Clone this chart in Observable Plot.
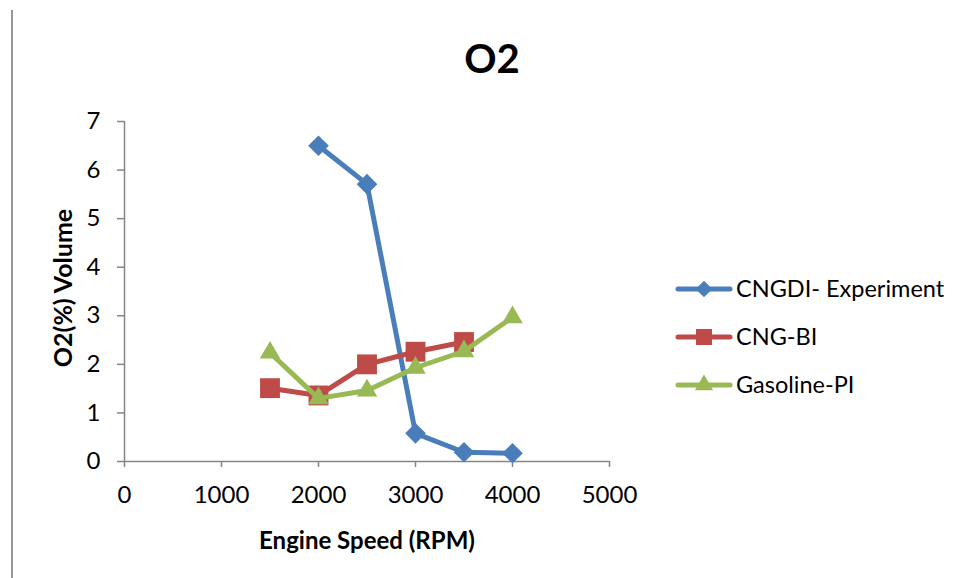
<!DOCTYPE html>
<html>
<head>
<meta charset="utf-8">
<script src="https://cdn.jsdelivr.net/npm/d3@7"></script>
<script src="https://cdn.jsdelivr.net/npm/@observablehq/plot@0.6"></script>
<style>
  html, body { margin: 0; padding: 0; background: #fff; }
  #chart { width: 961px; height: 578px; }
</style>
</head>
<body>
<div id="chart"></div>
<script>
// ---- data ----
const seriesNames = ["CNGDI- Experiment", "CNG-BI", "Gasoline-PI"];
const cngdiRpm = [2000, 2500, 3000, 3500, 4000];
const cngdiO2 = [6.5, 5.71, 0.58, 0.19, 0.17];
const cngbiRpm = [1500, 2000, 2500, 3000, 3500];
const cngbiO2 = [1.51, 1.36, 2.0, 2.26, 2.46];
const gasolineRpm = [1500, 2000, 2500, 3000, 3500, 4000];
const gasolineO2 = [2.24, 1.3, 1.46, 1.93, 2.27, 2.97];
const xTicks = [0, 1000, 2000, 3000, 4000, 5000];
const yTicks = [0, 1, 2, 3, 4, 5, 6, 7];
const titleText = "O2";
const xLabel = "Engine Speed (RPM)";
const yLabel = "O2(%) Volume";

const colors = ["#4A7EBB", "#BE4B48", "#98B954"];
const symbols = ["diamond2", "square", "triangle"];
const radii = [9.3, 11.2, 7.6];

const seriesData = [
  cngdiRpm.map((x, i) => ({series: seriesNames[0], x, y: cngdiO2[i]})),
  cngbiRpm.map((x, i) => ({series: seriesNames[1], x, y: cngbiO2[i]})),
  gasolineRpm.map((x, i) => ({series: seriesNames[2], x, y: gasolineO2[i]}))
];

const axisGray = "#868686";
const marks = [
  Plot.ruleY([0], {stroke: axisGray, strokeWidth: 1.5}),
  Plot.ruleX([0], {stroke: axisGray, strokeWidth: 1.5}),
  Plot.axisX({ticks: xTicks, tickSize: 6, tickPadding: 18, stroke: axisGray, fill: "black", tickFormat: d => String(d), label: null, strokeWidth: 1.5}),
  Plot.axisY({ticks: yTicks, tickSize: 7, tickPadding: 17, stroke: axisGray, fill: "black", tickFormat: d => String(d), label: null, strokeWidth: 1.5})
];
seriesData.forEach((data, i) => {
  marks.push(Plot.line(data, {x: "x", y: "y", stroke: colors[i], strokeWidth: 5, strokeLinejoin: "round", strokeLinecap: "round"}));
  marks.push(Plot.dot(data, {x: "x", y: "y", symbol: symbols[i], r: radii[i], fill: colors[i], stroke: "none"}));
});

const plot = Plot.plot({
  width: 961,
  height: 578,
  marginLeft: 124,
  marginRight: 352,
  marginTop: 121,
  marginBottom: 117,
  x: {domain: [0, 5000], nice: false},
  y: {domain: [0, 7], nice: false},
  style: {fontFamily: "Lato", fontSize: "24px", color: "black", background: "white", overflow: "visible"},
  marks
});

document.getElementById("chart").appendChild(plot);

const svg = d3.select(plot);

// left border line
svg.append("line").attr("x1", 12).attr("x2", 12).attr("y1", 10).attr("y2", 578)
  .attr("stroke", "#999").attr("stroke-width", 2);

// title
svg.append("text").attr("x", 492).attr("y", 73).attr("text-anchor", "middle")
  .attr("font-family", "Lato").attr("font-weight", "bold").attr("font-size", 40)
  .attr("fill", "black").text(titleText);

// axis labels
svg.append("text").attr("x", 367).attr("y", 549).attr("text-anchor", "middle")
  .attr("font-family", "Lato").attr("font-weight", "bold").attr("font-size", 24)
  .attr("fill", "black").text(xLabel);
svg.append("text").attr("transform", "translate(72,288) rotate(-90)").attr("text-anchor", "middle")
  .attr("font-family", "Lato").attr("font-weight", "bold").attr("font-size", 25)
  .attr("fill", "black").text(yLabel);

// legend
const legendY = [289, 337, 385];
const symGen = {diamond2: d3.symbolDiamond2, square: d3.symbolSquare, triangle: d3.symbolTriangle};
const legendR = [7.5, 9, 6.8];
seriesNames.forEach((name, i) => {
  const g = svg.append("g").attr("transform", `translate(0,${legendY[i]})`);
  g.append("line").attr("x1", 678).attr("x2", 730).attr("y1", 0).attr("y2", 0)
    .attr("stroke", colors[i]).attr("stroke-width", 5).attr("stroke-linecap", "round");
  g.append("path").attr("transform", "translate(704,0)")
    .attr("d", d3.symbol(symGen[symbols[i]], Math.PI * legendR[i] * legendR[i])())
    .attr("fill", colors[i]);
  g.append("text").attr("x", 736).attr("y", 0).attr("dy", "0.35em").attr("text-anchor", "start")
    .attr("font-family", "Lato").attr("font-size", 23.5).attr("fill", "black").text(name);
});
</script>
</body>
</html>
